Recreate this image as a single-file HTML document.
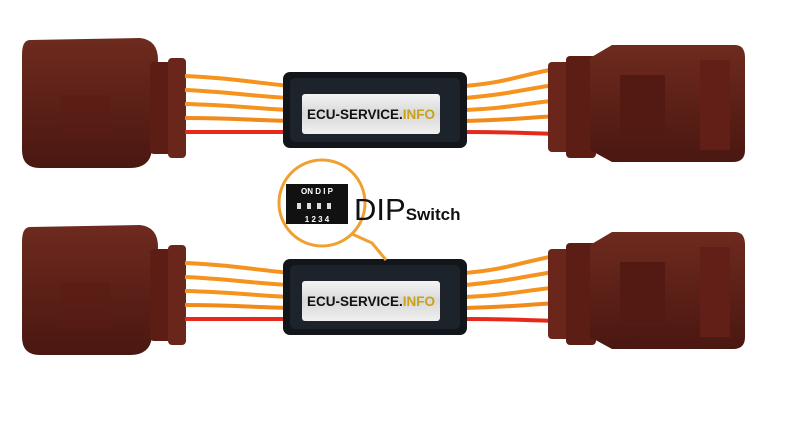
<!DOCTYPE html>
<html><head><style>
html,body{margin:0;padding:0;background:#fff;width:800px;height:423px;overflow:hidden}
svg text{font-family:"Liberation Sans",sans-serif}
</style></head><body>
<svg width="800" height="423" viewBox="0 0 800 423" xmlns="http://www.w3.org/2000/svg">
<defs>
<linearGradient id="br" x1="0" y1="0" x2="0" y2="1"><stop offset="0" stop-color="#6e2a1e"/><stop offset="1" stop-color="#4a1711"/></linearGradient>
<linearGradient id="lb" x1="0" y1="0" x2="0" y2="1"><stop offset="0" stop-color="#f4f4f4"/><stop offset=".5" stop-color="#d8d8d8"/><stop offset="1" stop-color="#f0f0f0"/></linearGradient>
<g id="row">
  <path d="M30 40 Q22 40 22 55 L22 150 Q22 168 40 168 L130 168 Q150 168 152 150 L158 60 Q158 40 140 38 Z" fill="url(#br)"/>
  <path d="M60 95 L110 95 L110 140 L60 140 Z" fill="#5a1c14" opacity=".5"/>
  <rect x="150" y="62" width="22" height="92" rx="4" fill="#5c1d15"/>
  <rect x="168" y="58" width="18" height="100" rx="4" fill="#6a261b"/>
  <g fill="none" stroke-width="4">
    <path d="M185 76 C230 78 250 82 290 86" stroke="#f5931e"/>
    <path d="M185 90 C230 92 250 96 290 98" stroke="#f5931e"/>
    <path d="M185 104 C230 105 250 108 290 110" stroke="#f5931e"/>
    <path d="M185 118 C230 118 250 120 290 121" stroke="#f08a1a"/>
    <path d="M185 132 C230 132 250 132 290 132" stroke="#e52a1c"/>
    <path d="M465 86 C510 82 520 75 560 68" stroke="#f5931e"/>
    <path d="M465 98 C510 94 520 90 560 84" stroke="#f5931e"/>
    <path d="M465 110 C510 108 520 104 560 100" stroke="#f5931e"/>
    <path d="M465 121 C510 120 520 118 560 116" stroke="#f08a1a"/>
    <path d="M465 132 C510 132 520 133 560 134" stroke="#e52a1c"/>
  </g>
  <rect x="283" y="72" width="184" height="76" rx="7" fill="#12161b"/>
  <rect x="290" y="78" width="170" height="64" rx="5" fill="#1c232b"/>
  <rect x="302" y="94" width="138" height="40" rx="3" fill="url(#lb)"/>
  <text x="371" y="119" text-anchor="middle" font-size="13.5" font-weight="bold" fill="#111">ECU-SERVICE.<tspan fill="#c9a21a">INFO</tspan></text>
  <rect x="548" y="62" width="24" height="90" rx="4" fill="#6a261b"/>
  <rect x="566" y="56" width="30" height="102" rx="4" fill="#5c1d15"/>
  <path d="M590 58 L612 45 L735 45 Q745 45 745 58 L745 150 Q745 162 733 162 L612 162 L590 150 Z" fill="url(#br)"/>
  <rect x="620" y="75" width="45" height="60" fill="#531a13"/>
  <rect x="700" y="60" width="30" height="90" fill="#621f17"/>
</g>
</defs>
<use href="#row"/>
<use href="#row" transform="translate(0,187)"/>
<circle cx="322" cy="203" r="43" fill="#fff" stroke="#f0a030" stroke-width="3"/>
<polyline points="352,234 372,243 386,260" fill="none" stroke="#f0a030" stroke-width="3"/>
<rect x="286" y="184" width="62" height="40" fill="#111"/>
<text x="317" y="194" text-anchor="middle" font-size="8" font-weight="bold" fill="#fff">ON D I P</text>
<g fill="#ddd"><rect x="297" y="203" width="4" height="6"/><rect x="307" y="203" width="4" height="6"/><rect x="317" y="203" width="4" height="6"/><rect x="327" y="203" width="4" height="6"/></g>
<text x="317" y="222" text-anchor="middle" font-size="8" font-weight="bold" fill="#fff">1 2 3 4</text>
<text x="354" y="220" font-size="31" fill="#111">DIP<tspan font-size="17" font-weight="bold">Switch</tspan></text>
</svg>
</body></html>
